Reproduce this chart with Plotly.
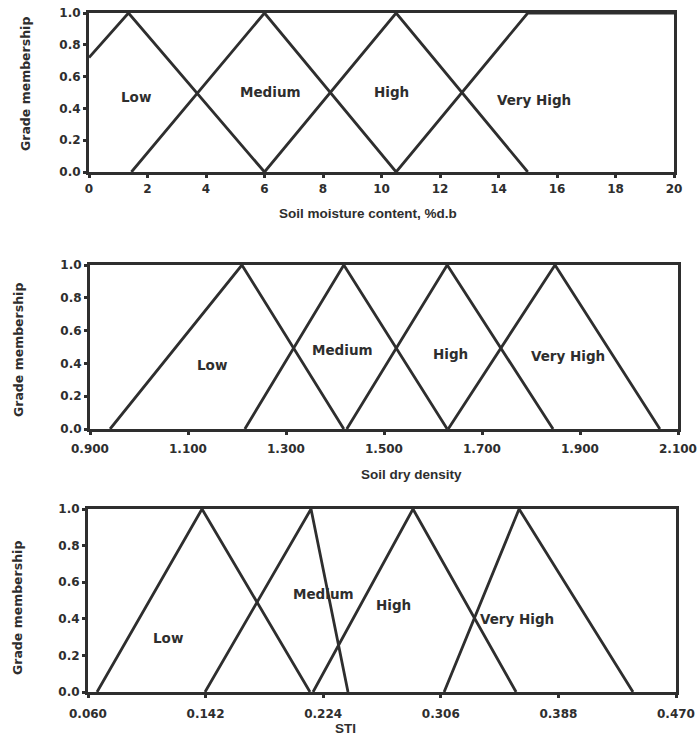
import plotly.graph_objects as go

# Membership functions: breakpoints (x) and grade membership (y) per fuzzy set
classes = ["Low", "Medium", "High", "Very High"]

# Soil moisture content, %d.b
moist_x = {
    "Low": [0, 1.35, 6.0],
    "Medium": [1.45, 6.0, 10.5],
    "High": [6.0, 10.5, 15.0],
    "Very High": [10.5, 15.0, 20.0],
}
moist_y = {
    "Low": [0.72, 1, 0],
    "Medium": [0, 1, 0],
    "High": [0, 1, 0],
    "Very High": [0, 1, 1],
}
moist_ticks = [0, 2, 4, 6, 8, 10, 12, 14, 16, 18, 20]
moist_lbl_x = [1.6, 6.2, 10.35, 15.2]
moist_lbl_y = [0.47, 0.5, 0.5, 0.45]

# Soil dry density
dens_x = {
    "Low": [0.941, 1.21, 1.418],
    "Medium": [1.216, 1.418, 1.629],
    "High": [1.424, 1.629, 1.845],
    "Very High": [1.631, 1.849, 2.063],
}
dens_y = {c: [0, 1, 0] for c in classes}
dens_ticks = [0.9, 1.1, 1.3, 1.5, 1.7, 1.9, 2.1]
dens_lbl_x = [1.149, 1.416, 1.635, 1.876]
dens_lbl_y = [0.39, 0.48, 0.46, 0.445]

# STI
sti_x = {
    "Low": [0.0663, 0.1395, 0.2148],
    "Medium": [0.1416, 0.2155, 0.2413],
    "High": [0.2169, 0.2866, 0.3585],
    "Very High": [0.3083, 0.3606, 0.440],
}
sti_y = {c: [0, 1, 0] for c in classes}
sti_ticks = [0.060, 0.142, 0.224, 0.306, 0.388, 0.470]
sti_lbl_x = [0.1158, 0.2245, 0.2727, 0.359]
sti_lbl_y = [0.295, 0.535, 0.475, 0.40]

y_ticks = [0.0, 0.2, 0.4, 0.6, 0.8, 1.0]

INK = "#2e2e2e"
FONT = "Liberation Sans"
WIDE = "DejaVu Sans"

W, H = 700, 743

panels = [
    dict(xs=moist_x, ys=moist_y, ticks=moist_ticks, fmt="d", rng=[0, 20],
         lx=moist_lbl_x, ly=moist_lbl_y, px=(89, 674), py=(13, 172),
         title="Soil moisture content, %d.b", tx=368, ty=213, ytx=25, yty=84,
         standoff=1),
    dict(xs=dens_x, ys=dens_y, ticks=dens_ticks, fmt=".3f", rng=[0.9, 2.1],
         lx=dens_lbl_x, ly=dens_lbl_y, px=(90, 678), py=(265, 429),
         title="Soil dry density", tx=412, ty=474, ytx=18, yty=350,
         standoff=4),
    dict(xs=sti_x, ys=sti_y, ticks=sti_ticks, fmt=".3f", rng=[0.06, 0.47],
         lx=sti_lbl_x, ly=sti_lbl_y, px=(88, 676), py=(509, 692),
         title="STI", tx=345, ty=728, ytx=17, yty=608, standoff=6),
]

fig = go.Figure()
annotations = []
layout = {}

for i, p in enumerate(panels, start=1):
    xa = "x" if i == 1 else f"x{i}"
    ya = "y" if i == 1 else f"y{i}"
    for c in classes:
        fig.add_trace(go.Scatter(
            x=p["xs"][c], y=p["ys"][c], mode="lines",
            line=dict(color=INK, width=2.8), xaxis=xa, yaxis=ya,
            showlegend=False, hoverinfo="skip",
        ))
    for c, lx, ly in zip(classes, p["lx"], p["ly"]):
        annotations.append(dict(
            x=lx, y=ly, xref=xa, yref=ya, text=c, showarrow=False,
            xanchor="center", yanchor="middle",
            font=dict(family=WIDE, size=13.5, color=INK, weight="bold"),
        ))
    annotations.append(dict(
        x=p["tx"] / W, y=1 - p["ty"] / H, xref="paper", yref="paper",
        text=p["title"], showarrow=False, xanchor="center", yanchor="middle",
        font=dict(family=FONT, size=13.5, color=INK, weight="bold"),
    ))
    annotations.append(dict(
        x=p["ytx"] / W, y=1 - p["yty"] / H,
        xref="paper", yref="paper", text="Grade membership", textangle=-90,
        showarrow=False, xanchor="center", yanchor="middle",
        font=dict(family=WIDE, size=12.5, color=INK, weight="bold"),
    ))
    axis_common = dict(
        showline=True, linewidth=3, linecolor=INK, mirror=True,
        showgrid=False, zeroline=False, ticks="outside", ticklen=3,
        tickwidth=3, tickcolor=INK, automargin=False,
        tickfont=dict(family=WIDE, size=12, color=INK, weight="bold"),
    )
    layout["xaxis" if i == 1 else f"xaxis{i}"] = dict(
        axis_common, domain=[p["px"][0] / W, p["px"][1] / W],
        range=p["rng"], tickvals=p["ticks"], tickformat=p["fmt"],
        ticklabelstandoff=p["standoff"], anchor=ya,
    )
    layout["yaxis" if i == 1 else f"yaxis{i}"] = dict(
        axis_common, domain=[1 - p["py"][1] / H, 1 - p["py"][0] / H],
        range=[0, 1], tickvals=y_ticks, tickformat=".1f", anchor=xa,
    )

fig.update_layout(
    width=W, height=H, margin=dict(l=0, r=0, t=0, b=0, autoexpand=False),
    paper_bgcolor="white", plot_bgcolor="white",
    annotations=annotations, **layout,
)

fig.write_html("out.html")
